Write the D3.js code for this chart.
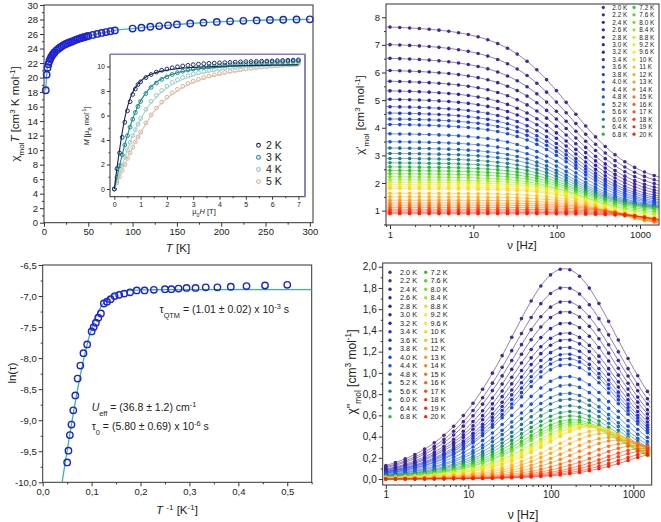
<!DOCTYPE html>
<html><head><meta charset="utf-8">
<script src="https://cdn.jsdelivr.net/npm/d3@7"></script>
<style>
body{margin:0;background:#fff}
svg{display:block}
text{font-family:"Liberation Sans",Arial,sans-serif;fill:#222}
</style>
</head><body>
<svg id="c" width="661" height="522"></svg>
<script>
// ---------------- Panel 1: chi_mol*T vs T ----------------
const chiTT_T = [2,3,4,5,6,7,8,9,10,11,12,14,16,18,20,22,24,26,28,30,32,34,36,38,40,42,44,46,48,50,55,60,65,70,75,80,100,110,120,130,140,150,165,180,195,210,225,240,255,270,285,300];
const chiTT_val = [18.25,20.4,21.35,21.85,22.25,22.55,22.8,23.0,23.2,23.35,23.5,23.75,23.95,24.15,24.3,24.45,24.6,24.7,24.8,24.9,25.0,25.1,25.2,25.3,25.38,25.45,25.52,25.6,25.67,25.73,25.88,26.02,26.15,26.27,26.38,26.5,26.75,26.88,27.0,27.1,27.2,27.32,27.45,27.57,27.67,27.75,27.82,27.88,27.93,27.97,28.0,28.02];
const p1XTicks = [0,50,100,150,200,250,300];
const p1YTicks = [0,2,4,6,8,10,12,14,16,18,20,22,24,26,28,30];

// ---------------- Inset: M vs mu0H ----------------
const insetH = [0,0.1,0.2,0.3,0.4,0.5,0.6,0.7,0.8,0.9,1.0,1.2,1.4,1.6,1.8,2.0,2.2,2.4,2.6,2.8,3.0,3.2,3.4,3.6,3.8,4.0,4.2,4.4,4.6,4.8,5.0,5.2,5.4,5.6,5.8,6.0,6.2,6.4,6.6,6.8,7.0];
const M_2K = [0,1.65,2.95,4.22,5.45,6.38,7.13,7.72,8.17,8.53,8.75,9.1,9.35,9.55,9.7,9.8,9.9,9.98,10.05,10.1,10.15,10.2,10.23,10.26,10.28,10.3,10.32,10.34,10.36,10.38,10.4,10.41,10.42,10.44,10.45,10.46,10.48,10.5,10.51,10.53,10.55];
const M_3K = [0,0.95,1.9,2.8,3.6,4.35,5.05,5.7,6.25,6.75,7.15,7.8,8.3,8.65,8.95,9.15,9.35,9.5,9.62,9.72,9.8,9.87,9.93,9.98,10.03,10.07,10.11,10.15,10.18,10.21,10.24,10.27,10.29,10.32,10.34,10.36,10.38,10.4,10.42,10.44,10.46];
const M_4K = [0,0.65,1.3,1.95,2.6,3.2,3.8,4.35,4.85,5.3,5.75,6.5,7.15,7.65,8.05,8.4,8.7,8.92,9.1,9.26,9.4,9.5,9.6,9.68,9.76,9.82,9.88,9.93,9.98,10.02,10.06,10.1,10.14,10.17,10.2,10.23,10.26,10.29,10.32,10.35,10.38];
const M_5K = [0,0.5,1.0,1.5,2.0,2.5,2.95,3.4,3.85,4.25,4.65,5.4,6.05,6.6,7.1,7.5,7.85,8.15,8.4,8.62,8.8,8.96,9.1,9.22,9.33,9.43,9.52,9.6,9.67,9.74,9.8,9.86,9.91,9.96,10.0,10.04,10.08,10.12,10.16,10.2,10.24];
const fitH = [0,0.1,0.2,0.3,0.4,0.5,0.6,0.8,1.0,1.25,1.5,2,2.5,3,4,5,6,7];
const Mfit_2K = [0,1.7,3.2,4.6,5.8,6.7,7.4,8.3,8.8,9.2,9.45,9.7,9.85,9.93,10.02,10.08,10.12,10.15];
const Mfit_3K = [0,0.95,1.9,2.8,3.65,4.4,5.1,6.3,7.2,8.0,8.55,9.2,9.55,9.75,9.95,10.05,10.1,10.14];
const Mfit_4K = [0,0.65,1.3,1.95,2.6,3.2,3.8,4.85,5.7,6.6,7.3,8.25,8.85,9.25,9.7,9.92,10.05,10.12];
const Mfit_5K = [0,0.5,1.0,1.5,2.0,2.5,2.95,3.85,4.6,5.5,6.3,7.4,8.15,8.7,9.35,9.7,9.92,10.05];
const insetLabels = ["2 K","3 K","4 K","5 K"];
const insetColors = ["#1d2e6b","#1b8b8b","#8fcac5","#dbae96"];
const insetLineColors = ["#12254f","#1b8b8b","#a9d6d2","#e2c1ae"];
const insetXTicks = [0,1,2,3,4,5,6,7];
const insetYTicks = [0,2,4,6,8,10];

// ---------------- AC data (per temperature) ----------------
const acTemps = [2.0,2.2,2.4,2.6,2.8,3.0,3.2,3.4,3.6,3.8,4.0,4.4,4.8,5.2,5.6,6.0,6.4,6.8,7.2,7.6,8.0,8.4,8.8,9.2,9.6,10,11,12,13,14,15,16,17,18,19,20];
const acLabels = ["2.0 K","2.2 K","2.4 K","2.6 K","2.8 K","3.0 K","3.2 K","3.4 K","3.6 K","3.8 K","4.0 K","4.4 K","4.8 K","5.2 K","5.6 K","6.0 K","6.4 K","6.8 K","7.2 K","7.6 K","8.0 K","8.4 K","8.8 K","9.2 K","9.6 K","10 K","11 K","12 K","13 K","14 K","15 K","16 K","17 K","18 K","19 K","20 K"];
const acColors = ["#4a2a8a","#46298f","#412795","#3b259b","#3524a2","#2f23a9","#2a25b4","#2530c4","#2038d2","#1c40de","#1a47e6","#1a4fe6","#1a57dc","#1c63c2","#1f71a4","#208186","#209a62","#22b83a","#2fc825","#52d422","#7ade22","#a2e622","#c9ee22","#eeee22","#ffe421","#ffd61f","#ffc21d","#ffae1b","#ff9a19","#ff8617","#ff7215","#ff5e13","#ff4a11","#ff380f","#ff2a0d","#ff1c0b"];
// generalized Debye parameters
const acChiT = [7.70,7.06,6.56,6.11,5.72,5.37,5.06,4.79,4.56,4.34,4.14,3.80,3.51,3.28,3.08,2.90,2.74,2.59,2.46,2.34,2.23,2.12,2.03,1.95,1.87,1.80,1.63,1.50,1.38,1.28,1.20,1.12,1.05,0.99,0.94,0.89];
const acChiS = [1.77,1.66,1.55,1.47,1.39,1.32,1.26,1.20,1.15,1.11,1.07,1.05,1.03,1.02,1.01,1.00,0.99,0.98,0.95,0.91,0.85,0.78,0.72,0.66,0.60,0.55,0.47,0.43,0.40,0.38,0.37,0.36,0.35,0.34,0.32,0.30];
const acAlpha = [0.25,0.25,0.25,0.24,0.24,0.24,0.23,0.23,0.23,0.22,0.22,0.22,0.21,0.21,0.20,0.20,0.20,0.19,0.19,0.18,0.18,0.17,0.17,0.16,0.16,0.15,0.15,0.14,0.14,0.13,0.13,0.12,0.12,0.11,0.11,0.10];
const lnTau = [-6.82,-6.83,-6.84,-6.85,-6.86,-6.86,-6.87,-6.87,-6.88,-6.89,-6.89,-6.90,-6.91,-6.91,-6.94,-6.96,-6.98,-7.00,-7.05,-7.09,-7.12,-7.28,-7.35,-7.43,-7.50,-7.57,-7.78,-7.92,-8.12,-8.33,-8.60,-8.84,-9.07,-9.24,-9.49,-9.68];
const acFreq = [1,1.31,1.72,2.25,2.95,3.87,5.07,6.64,8.7,11.4,14.9,19.6,25.7,33.6,44.1,57.8,75.7,99.2,130,170,223,293,383,502,658,863,1131,1482];
const freqTicks = [1,10,100,1000];
const p2YTicks = [1,2,3,4,5,6,7,8];
const p4YTicks = [0,0.2,0.4,0.6,0.8,1.0,1.2,1.4,1.6,1.8,2.0];
const p3XTicks = [0,0.1,0.2,0.3,0.4,0.5];
const p3YTicks = [-10,-9.5,-9,-8.5,-8,-7.5,-7,-6.5];
// Arrhenius + QTM fit parameters (from the annotations)
const Ueff_cm = 36.8, tau0 = 5.80e-6, tauQTM = 1.01e-3;

// ---------------- helpers ----------------
const svg = d3.select("#c");
const AX = "#333";
const comma = d => d.toFixed(1).replace(".", ",");

function rich(g, x, y, parts, size, opts={}) {
  const t = g.append("text").attr("x", x).attr("y", y).attr("font-size", size)
    .attr("text-anchor", opts.anchor || "middle");
  if (opts.rotate) t.attr("transform", `rotate(-90,${x},${y})`);
  parts.forEach(p => {
    const s = t.append("tspan").text(p[0]);
    if (p[1] === "sub") s.attr("baseline-shift", "sub").attr("font-size", size*0.7);
    if (p[1] === "sup") s.attr("baseline-shift", "super").attr("font-size", size*0.7);
    if (p[1] === "i") s.attr("font-style", "italic");
  });
  return t;
}
function styleAxis(sel, fs) {
  sel.select(".domain").remove();
  sel.selectAll(".tick line").attr("stroke", AX);
  sel.selectAll(".tick text").attr("font-size", fs).attr("fill", "#222")
     .attr("font-family", '"Liberation Sans",Arial,sans-serif');
}
function axes(g, xs, ys, o) {
  const [x0,x1] = xs.range(), [y0,y1] = ys.range();
  // minor
  g.append("g").attr("transform",`translate(0,${y0})`)
    .call(d3.axisBottom(xs).tickValues(o.xMinor).tickFormat("").tickSize(o.minor||2).tickSizeOuter(0))
    .call(s=>styleAxis(s,o.fs));
  g.append("g").attr("transform",`translate(${x0},0)`)
    .call(d3.axisLeft(ys).tickValues(o.yMinor).tickFormat("").tickSize(o.minor||2).tickSizeOuter(0))
    .call(s=>styleAxis(s,o.fs));
  g.append("g").attr("transform",`translate(0,${y0})`)
    .call(d3.axisBottom(xs).tickValues(o.xTicks).tickFormat(o.xFmt).tickSize(o.major||4).tickPadding(2).tickSizeOuter(0))
    .call(s=>styleAxis(s,o.fs));
  g.append("g").attr("transform",`translate(${x0},0)`)
    .call(d3.axisLeft(ys).tickValues(o.yTicks).tickFormat(o.yFmt).tickSize(o.major||4).tickPadding(2).tickSizeOuter(0))
    .call(s=>styleAxis(s,o.fs));
  g.append("rect").attr("x",x0).attr("y",y1).attr("width",x1-x0).attr("height",y0-y1)
    .attr("fill","none").attr("stroke",o.frame||AX).attr("stroke-width",1);
}
function logMinor(lo, hi) {
  const out = [];
  for (let e=-1; e<4; e++) for (let m=2; m<10; m++) { const v=m*Math.pow(10,e); if (v>lo && v<hi) out.push(v); }
  return out;
}
function between(lo, hi, step) { const out=[]; for (let v=lo; v<=hi+1e-9; v+=step) out.push(+v.toFixed(4)); return out; }

// generalized Debye model
function debye(i, f) {
  const w = 2*Math.PI*f*Math.exp(lnTau[i]);
  const a = acAlpha[i], d = acChiT[i]-acChiS[i];
  const p = Math.pow(w, 1-a), s = Math.sin(a*Math.PI/2), c = Math.cos(a*Math.PI/2);
  const den = 1 + 2*p*s + p*p;
  return [acChiS[i] + d*(1+p*s)/den, d*p*c/den];
}

// ================= Panel 1 =================
{
  const g = svg.append("g");
  const x = d3.scaleLinear([0,303.6],[44,313]);
  const y = d3.scaleLinear([0,30],[222.7,5]);
  axes(g, x, y, {xTicks:p1XTicks, yTicks:p1YTicks, xMinor:between(25,275,50), yMinor:between(1,29,2),
    xFmt:d=>d, yFmt:d=>d, fs:9.5});
  const pts = chiTT_T.map((t,i)=>[t, chiTT_val[i]]);
  g.append("path").datum(pts).attr("fill","none").attr("stroke","#3bb8a6").attr("stroke-width",1.3)
    .attr("d", d3.line().x(d=>x(d[0])).y(d=>y(d[1])).curve(d3.curveMonotoneX));
  g.selectAll("circle.p1").data(pts).join("circle").attr("cx",d=>x(d[0])).attr("cy",d=>y(d[1]))
    .attr("r",3.2).attr("fill","none").attr("stroke","#1f22d4").attr("stroke-width",1.4);
  rich(g, 19, 114, [["χ"],["mol","sub"],["T","i"],[" [cm"],["3","sup"],[" K mol"],["-1","sup"],["]"]], 11.5, {rotate:true});
  rich(g, 178, 252, [["T","i"],[" [K]"]], 11.5);

  // ----- inset -----
  const gi = svg.append("g");
  const xi = d3.scaleLinear([-0.164,7.25],[110,305]);
  const yi = d3.scaleLinear([-0.63,11.0],[196.7,54.3]);
  gi.append("rect").attr("x",110).attr("y",54.3).attr("width",195).attr("height",142.4).attr("fill","#fff");
  const Ms = [M_2K,M_3K,M_4K,M_5K], Mf = [Mfit_2K,Mfit_3K,Mfit_4K,Mfit_5K];
  [3,2,1,0].forEach(k=>{
    gi.selectAll(null).data(insetH.map((h,j)=>[h,Ms[k][j]])).join("circle")
      .attr("cx",d=>xi(d[0])).attr("cy",d=>yi(d[1])).attr("r",1.9)
      .attr("fill","none").attr("stroke",insetColors[k]).attr("stroke-width",1);
  });
  [3,2,1,0].forEach(k=>{
    gi.append("path").datum(fitH.map((h,j)=>[h,Mf[k][j]])).attr("fill","none")
      .attr("stroke",insetLineColors[k]).attr("stroke-width",1.1)
      .attr("d", d3.line().x(d=>xi(d[0])).y(d=>yi(d[1])).curve(d3.curveMonotoneX));
  });
  axes(gi, xi, yi, {xTicks:insetXTicks, yTicks:insetYTicks, xMinor:between(0.5,6.5,1), yMinor:between(1,9,2),
    xFmt:d=>d, yFmt:d=>d, fs:7, major:3, minor:1.5, frame:AX});
  gi.append("path").attr("d",`M110,54.3H305V196.7`).attr("fill","none").attr("stroke","#7d7dd8").attr("stroke-width",1.2);
  rich(gi, 89, 126, [["M","i"],[" [μ"],["B","sub"],[" mol"],["-1","sup"],["]"]], 7.5, {rotate:true});
  rich(gi, 204, 214, [["μ"],["0","sub"],["H","i"],[" [T]"]], 7.5);
  insetLabels.forEach((l,k)=>{
    const yy = 145.3 + k*12.1;
    gi.append("circle").attr("cx",258.5).attr("cy",yy).attr("r",1.9).attr("fill","none")
      .attr("stroke",insetColors[k]).attr("stroke-width",1.1);
    gi.append("text").attr("x",266).attr("y",yy+3.7).attr("font-size",10.5).text(l);
  });
}

// ================= Panel 2: chi' =================
{
  const g = svg.append("g");
  const x = d3.scaleLog([0.895,1691],[386,659]);
  const y = d3.scaleLinear([0.48,8.48],[225,4]);
  axes(g, x, y, {xTicks:freqTicks, yTicks:p2YTicks, xMinor:logMinor(0.895,1691), yMinor:between(0.5,8,0.5).filter(v=>v%1!==0),
    xFmt:d=>d, yFmt:d=>d, fs:9.5});
  const fine = d3.range(0,101).map(k=>0.9*Math.pow(1700/0.9,k/100));
  acTemps.forEach((t,i)=>{
    g.append("path").datum(fine).attr("fill","none").attr("stroke",acColors[i]).attr("stroke-opacity",0.6).attr("stroke-width",1)
      .attr("d", d3.line().x(f=>x(f)).y(f=>y(debye(i,f)[0])));
  });
  acTemps.forEach((t,i)=>{
    g.selectAll(null).data(acFreq).join("circle").attr("cx",f=>x(f)).attr("cy",f=>y(debye(i,f)[0]))
      .attr("r",1.8).attr("fill",acColors[i]);
  });
  acLabels.forEach((l,i)=>{
    const col = i<18?0:1, row = i%18;
    const yy = 7.4 + row*7.46;
    g.append("circle").attr("cx",col?634:603.3).attr("cy",yy).attr("r",1.6).attr("fill",acColors[i]);
    g.append("text").attr("x",col?639.3:612.3).attr("y",yy+2.3).attr("font-size",6.4).text(l);
  });
  rich(g, 364, 115, [["χ'"],["mol","sub"],[" [cm"],["3","sup"],[" mol"],["-1","sup"],["]"]], 11.5, {rotate:true});
  rich(g, 522, 249, [["ν [Hz]"]], 11.5);
}

// ================= Panel 3: ln(tau) vs 1/T =================
{
  const g = svg.append("g");
  const x = d3.scaleLinear([0,0.55],[42.7,311.7]);
  const y = d3.scaleLinear([-10,-6.5],[482.3,265]);
  axes(g, x, y, {xTicks:p3XTicks, yTicks:p3YTicks, xMinor:between(0.05,0.55,0.1), yMinor:between(-9.75,-6.75,0.5),
    xFmt:comma, yFmt:comma, fs:9.5});
  const U = Ueff_cm*1.4388;
  const fitX = d3.range(0.036,0.551,0.002);
  g.append("clipPath").attr("id","cp3").append("rect").attr("x",42.7).attr("y",265).attr("width",269).attr("height",217.3);
  g.append("path").datum(fitX).attr("clip-path","url(#cp3)").attr("fill","none").attr("stroke","#36b7a5").attr("stroke-width",1.3)
    .attr("d", d3.line().x(v=>x(v)).y(v=>y(-Math.log(Math.exp(-U*v)/tau0 + 1/tauQTM))));
  g.selectAll(null).data(acTemps.map((t,i)=>[1/t, lnTau[i]])).join("circle")
    .attr("cx",d=>x(d[0])).attr("cy",d=>y(d[1])).attr("r",3.2).attr("fill","none")
    .attr("stroke","#1f22d4").attr("stroke-width",1.4);
  rich(g, 16, 373, [["ln(τ)"]], 11.5, {rotate:true});
  rich(g, 177, 514, [["T","i"],[" "],["-1","sup"],[" [K"],["-1","sup"],["]"]], 11.5);
  rich(g, 159.5, 313, [["τ"],["QTM","sub"],[" = (1.01 ± 0.02) x 10"],["-3","sup"],[" s"]], 10.5, {anchor:"start"});
  rich(g, 91.7, 411, [["U","i"],["eff","sub"],[" = (36.8 ± 1.2) cm"],["-1","sup"]], 10.5, {anchor:"start"});
  rich(g, 91.7, 429.5, [["τ"],["0","sub"],[" = (5.80 ± 0.69) x 10"],["-6","sup"],[" s"]], 10.5, {anchor:"start"});
}

// ================= Panel 4: chi'' =================
{
  const g = svg.append("g");
  const x = d3.scaleLog([0.917,1670],[382.7,651.7]);
  const y = d3.scaleLinear([-0.056,2.035],[485,263]);
  axes(g, x, y, {xTicks:freqTicks, yTicks:p4YTicks, xMinor:logMinor(0.917,1670), yMinor:between(0.1,1.9,0.2),
    xFmt:d=>d, yFmt:comma, fs:10});
  const fine = d3.range(0,101).map(k=>0.95*Math.pow(1600/0.95,k/100));
  acTemps.forEach((t,i)=>{
    g.append("path").datum(fine).attr("fill","none").attr("stroke",acColors[i]).attr("stroke-opacity",0.6).attr("stroke-width",1)
      .attr("d", d3.line().x(f=>x(f)).y(f=>y(debye(i,f)[1])));
  });
  acTemps.forEach((t,i)=>{
    g.selectAll(null).data(acFreq).join("circle").attr("cx",f=>x(f)).attr("cy",f=>y(debye(i,f)[1]))
      .attr("r",1.8).attr("fill",acColors[i]);
  });
  acLabels.forEach((l,i)=>{
    const col = i<18?0:1, row = i%18;
    const yy = 272.3 + row*8.49;
    g.append("circle").attr("cx",col?425.7:390).attr("cy",yy).attr("r",1.7).attr("fill",acColors[i]);
    g.append("text").attr("x",col?430.5:400).attr("y",yy+2.6).attr("font-size",7.3).text(l);
  });
  rich(g, 356, 372, [["χ''"],["mol","sub"],[" [cm"],["3","sup"],[" mol"],["-1","sup"],["]"]], 12, {rotate:true});
  rich(g, 523, 519, [["ν [Hz]"]], 12);
}
</script>
</body></html>
